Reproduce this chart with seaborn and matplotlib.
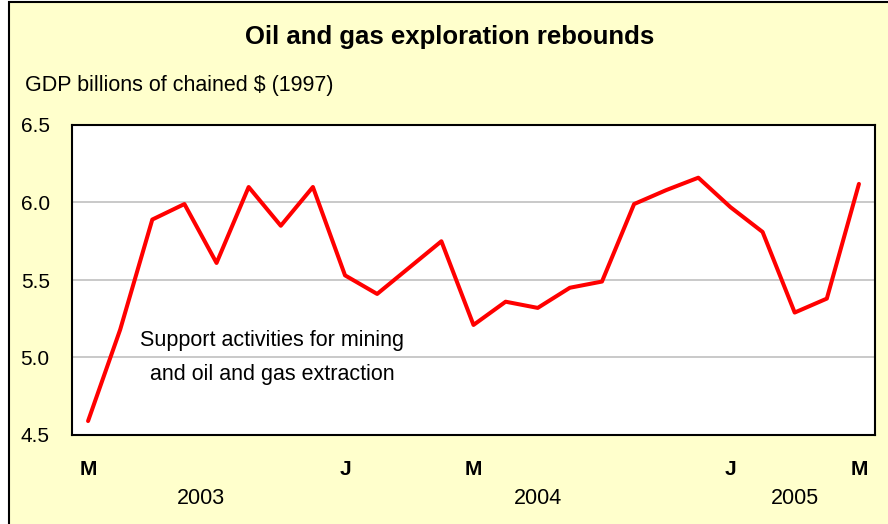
import numpy as np
import pandas as pd
import seaborn as sns
import matplotlib.pyplot as plt
from matplotlib.patches import Rectangle
from matplotlib.transforms import blended_transform_factory

# monthly, May 2003 - May 2005
months = pd.date_range("2003-05-01", periods=25, freq="MS")
gdp = [4.59, 5.18, 5.89, 5.99, 5.61, 6.10, 5.85, 6.10, 5.53, 5.41,
       5.58, 5.75, 5.21, 5.36, 5.32, 5.45, 5.49, 5.99, 6.08, 6.16,
       5.97, 5.81, 5.29, 5.38, 6.12]
label_months = {1: "J", 5: "M"}
years = ["2003", "2004", "2005"]
year_pos = [3.5, 14.0, 22.0]

df = pd.DataFrame({"i": np.arange(len(gdp)), "gdp": gdp})

sns.set_style("white")
plt.rcParams['font.family'] = ['Liberation Sans', 'DejaVu Sans']
plt.rcParams['text.color'] = 'black'
plt.rcParams['xtick.color'] = 'black'
plt.rcParams['ytick.color'] = 'black'

fig = plt.figure(figsize=(8.88, 5.24), dpi=100)
fig.patch.set_facecolor("white")
fig.patches.append(Rectangle((9 / 888, -0.01), 1.0, 1 - 2 / 524 + 0.01,
                             transform=fig.transFigure, facecolor="#FFFFCC",
                             edgecolor="black", linewidth=1.5, zorder=-10))

ax = fig.add_axes([72 / 888, 1 - 435 / 524, 803 / 888, 310 / 524])
ax.set_facecolor("white")

for v in [5.0, 5.5, 6.0]:
    ax.axhline(v, color="#C0C0C0", lw=1.2, zorder=1)

sns.lineplot(data=df, x="i", y="gdp", ax=ax, color="red", lw=2.9, zorder=3)

ax.set_xlim(-0.5, len(gdp) - 0.5)
ax.set_ylim(4.5, 6.5)
ax.set_yticks([4.5, 5.0, 5.5, 6.0, 6.5])
ax.set_yticklabels(["4.5", "5.0", "5.5", "6.0", "6.5"], fontsize=15)
ax.tick_params(axis="y", length=0, pad=16)

pos = [i for i, m in enumerate(months) if m.month in label_months]
ax.set_xticks(pos)
ax.set_xticklabels([label_months[months[i].month] for i in pos],
                   fontsize=15, fontweight="bold")
ax.tick_params(axis="x", which="major", length=0, pad=18)
ax.set_xticks(np.arange(0.5, len(gdp) - 1, 1.0), minor=True)
ax.tick_params(axis="x", which="minor", direction="in", length=5, width=1.2,
               color="black")
ax.set_xlabel("")
ax.set_ylabel("")

for s in ax.spines.values():
    s.set_color("black")
    s.set_linewidth(1.5)

trans = blended_transform_factory(ax.transData, ax.transAxes)
for y, p in zip(years, year_pos):
    ax.text(p, -0.205, y, transform=trans, ha="center", va="center", fontsize=15.5)

ax.text(5.73, 5.0, "Support activities for mining\nand oil and gas extraction",
        ha="center", va="center", fontsize=15.5, linespacing=1.85, zorder=4)

fig.text(450 / 888, 1 - 37 / 524, "Oil and gas exploration rebounds",
         ha="center", va="center", fontsize=18.5, fontweight="bold")
fig.text(25 / 888, 1 - 85 / 524, "GDP billions of chained $ (1997)",
         ha="left", va="center", fontsize=15.5)

fig.savefig("out.png", dpi=100, facecolor=fig.get_facecolor())
